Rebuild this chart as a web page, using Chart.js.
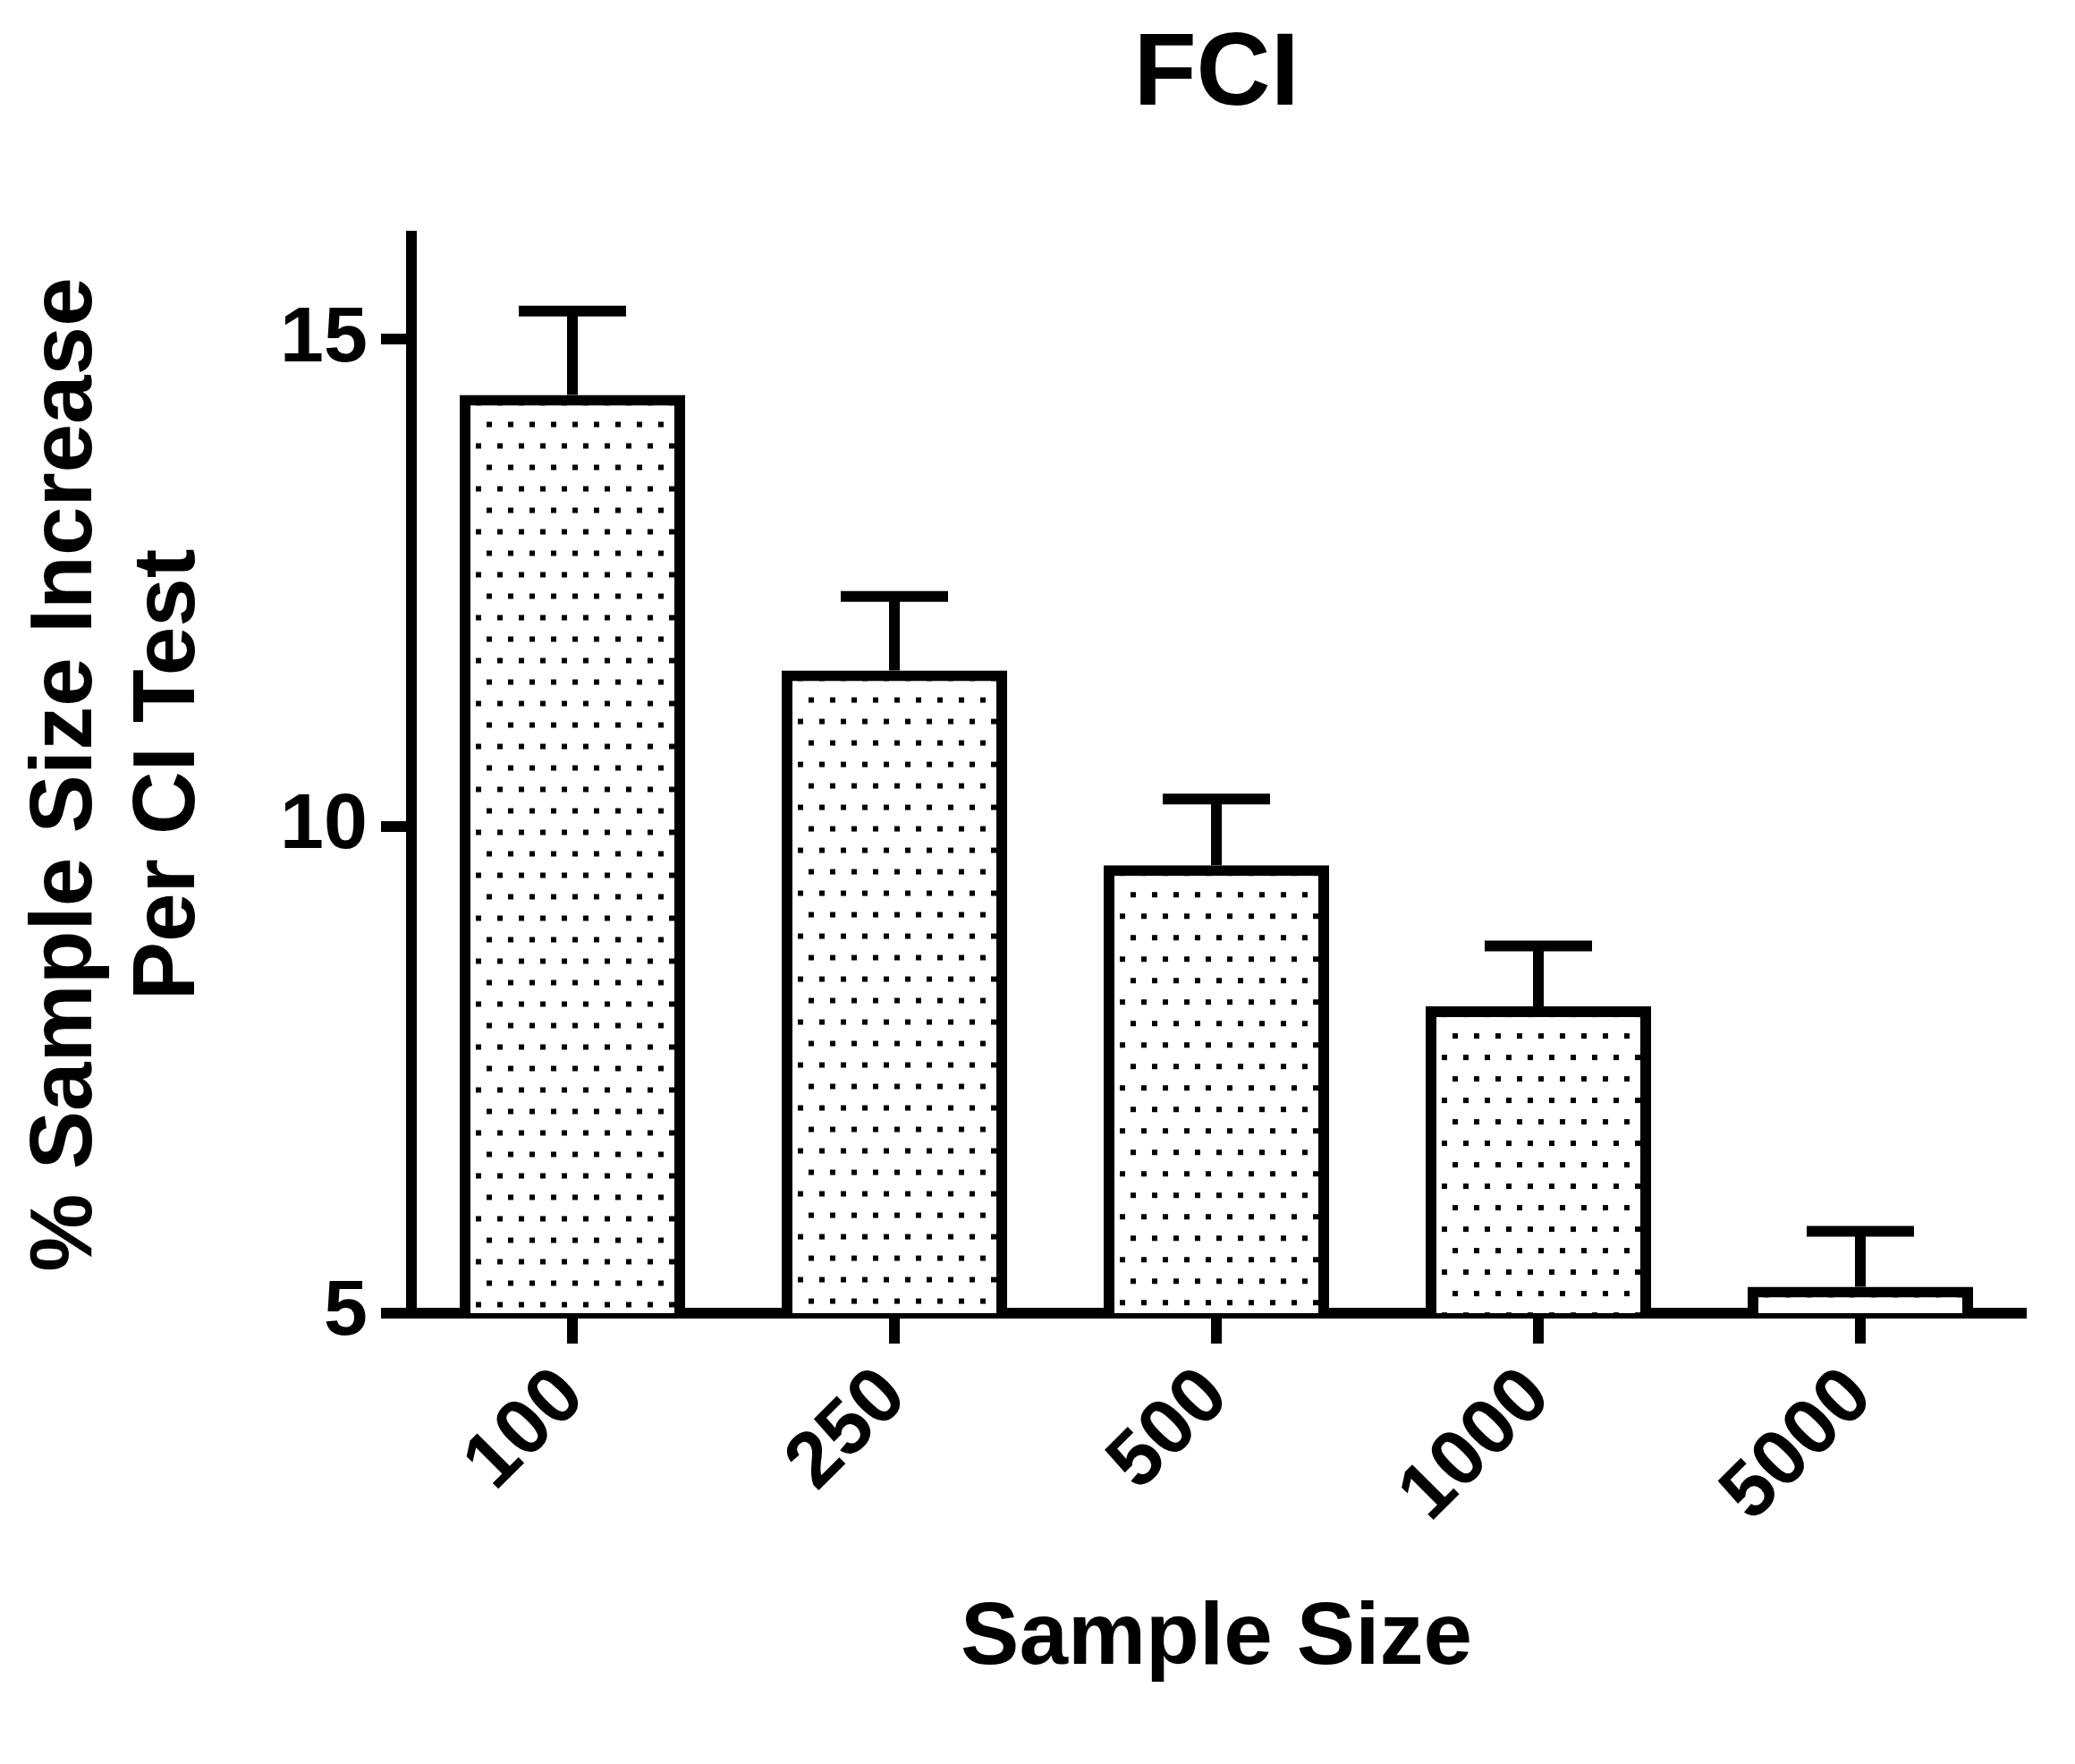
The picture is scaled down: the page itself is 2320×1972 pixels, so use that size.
<!DOCTYPE html>
<html>
<head>
<meta charset="utf-8">
<script src="https://cdn.jsdelivr.net/npm/chart.js@4.4.1/dist/chart.umd.min.js"></script>
<style>
  html, body { margin: 0; padding: 0; background: #fff; }
  canvas { display: block; }
</style>
</head>
<body>
<canvas id="fciChart" width="2320" height="1972"></canvas>
<script>
const categories = ["100", "250", "500", "1000", "5000"];
const meanValues = [14.43, 11.60, 9.60, 8.15, 5.27];
const errorValues = [0.86, 0.76, 0.68, 0.62, 0.57];
const yTicks = [5, 10, 15];

Chart.defaults.font.family = "'Liberation Sans', Arial, sans-serif";
Chart.defaults.color = "#000";

// dotted tile, anchored at each bar's inner top-left corner
const tile = document.createElement("canvas");
tile.width = 24;
tile.height = 48;
(function () {
    const g = tile.getContext("2d");
    g.fillStyle = "#fff";
    g.fillRect(0, 0, 24, 48);
    g.fillStyle = "#000";
    g.fillRect(18, 18, 6, 6);
    g.fillRect(6, 42, 6, 6);
})();

function barFill(context) {
    const chart = context.chart;
    const pat = chart.ctx.createPattern(tile, "repeat");
    const xs = chart.scales.x;
    const ys = chart.scales.y;
    const i = context.dataIndex;
    if (!xs || !ys || i === undefined) return pat;
    const half = xs.width / categories.length * 0.7 / 2;
    const left = xs.getPixelForValue(i) - half + 12;
    const top = ys.getPixelForValue(meanValues[i]) + 12;
    pat.setTransform(new DOMMatrix().translate(left, top));
    return pat;
}

const errorBars = {
    id: "errorBars",
    afterDatasetsDraw(chart) {
        const ctx = chart.ctx;
        const yScale = chart.scales.y;
        const meta = chart.getDatasetMeta(0);
        ctx.save();
        ctx.strokeStyle = "#000";
        ctx.lineWidth = 12;
        ctx.lineCap = "butt";
        meta.data.forEach((bar, i) => {
            const top = yScale.getPixelForValue(meanValues[i] + errorValues[i]);
            const base = yScale.getPixelForValue(meanValues[i]);
            ctx.beginPath();
            ctx.moveTo(bar.x, base);
            ctx.lineTo(bar.x, top);
            ctx.moveTo(bar.x - 60, top);
            ctx.lineTo(bar.x + 60, top);
            ctx.stroke();
        });
        ctx.restore();
    }
};

const canvas = document.getElementById("fciChart");

new Chart(canvas, {
    type: "bar",
    data: {
        labels: categories,
        datasets: [{
            data: meanValues,
            backgroundColor: barFill,
            borderColor: "#000",
            borderWidth: 12,
            borderSkipped: "bottom",
            barPercentage: 0.7,
            categoryPercentage: 1
        }]
    },
    options: {
        responsive: false,
        animation: false,
        devicePixelRatio: 1,
        layout: { padding: { left: 0, right: 60, top: 0, bottom: 0 } },
        plugins: {
            legend: { display: false },
            tooltip: { enabled: false },
            title: {
                display: true,
                text: "FCI",
                fullSize: false,
                font: { size: 115, weight: "bold", lineHeight: 1.2 },
                color: "#000",
                padding: { top: 16, bottom: 110 }
            }
        },
        scales: {
            x: {
                z: 1,
                offset: true,
                border: { display: true, color: "#000", width: 12 },
                grid: {
                    offset: false,
                    drawOnChartArea: false,
                    drawTicks: true,
                    tickLength: 34,
                    lineWidth: 12,
                    color: "#000"
                },
                ticks: {
                    autoSkip: false,
                    maxRotation: 45,
                    minRotation: 45,
                    padding: 8,
                    font: { size: 88, weight: "bold" },
                    color: "#000"
                },
                title: {
                    display: true,
                    text: "Sample Size",
                    font: { size: 98, weight: "bold", lineHeight: 1.17 },
                    color: "#000",
                    padding: { top: 0, bottom: 82 }
                },
                afterFit(scale) { scale.height = 504; }
            },
            y: {
                z: 1,
                min: 5,
                max: 16.06,
                border: { display: true, color: "#000", width: 12 },
                grid: {
                    drawOnChartArea: false,
                    drawTicks: true,
                    tickLength: 34,
                    lineWidth: 12,
                    color: "#000"
                },
                ticks: {
                    padding: 15,
                    font: { size: 88, weight: "bold" },
                    color: "#000"
                },
                afterBuildTicks(scale) {
                    scale.ticks = yTicks.map(v => ({ value: v }));
                },
                title: {
                    display: true,
                    text: ["% Sample Size Increase", "Per CI Test"],
                    font: { size: 98, weight: "bold", lineHeight: 1.18 },
                    color: "#000",
                    padding: { top: 17, bottom: 0 }
                },
                afterFit(scale) { scale.width = 460; }
            }
        }
    },
    plugins: [errorBars]
});
</script>
</body>
</html>
